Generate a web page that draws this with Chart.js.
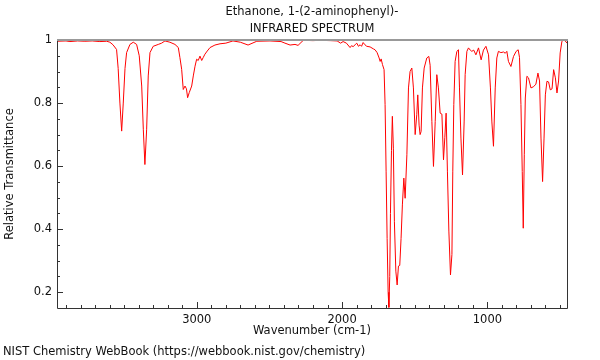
<!DOCTYPE html>
<html>
<head>
<meta charset="utf-8">
<title>Ethanone, 1-(2-aminophenyl)- IR spectrum</title>
<script src="https://cdn.jsdelivr.net/npm/chart.js@4"></script>
<style>
  html, body { margin: 0; padding: 0; background: #fff; }
  #spectrum { display: block; }
</style>
</head>
<body>
<canvas id="spectrum" width="600" height="360"></canvas>
<script>
const wavenumbers = [
  3961, 3900, 3873, 3820, 3770, 3720, 3667, 3620, 3598, 3577,
  3552, 3541, 3529, 3517, 3506, 3494, 3483, 3460, 3437, 3414,
  3396, 3379, 3368, 3357, 3345, 3334, 3322, 3300, 3265, 3242,
  3219, 3185, 3150, 3127, 3116, 3104, 3093, 3081, 3071, 3063,
  3052, 3035, 3024, 3012, 3001, 2990, 2978, 2966, 2955, 2944,
  2928, 2909, 2875, 2840, 2800, 2751, 2700, 2647, 2587, 2496,
  2420, 2393, 2358, 2324, 2303, 2267, 2200, 2152, 2080, 2034,
  2010, 1993, 1970, 1945, 1935, 1924, 1910, 1899, 1887, 1876,
  1866, 1855, 1843, 1830, 1807, 1785, 1773, 1759, 1745, 1738,
  1731, 1722, 1711, 1704, 1697, 1690, 1683, 1678, 1672, 1667,
  1660, 1654, 1647, 1640, 1630, 1621, 1612, 1603, 1594, 1585,
  1575, 1566, 1554, 1543, 1532, 1520, 1509, 1497, 1486, 1479,
  1470, 1463, 1456, 1447, 1435, 1417, 1403, 1394, 1382, 1371,
  1359, 1348, 1337, 1325, 1313, 1302, 1293, 1284, 1275, 1265,
  1254, 1244, 1238, 1231, 1222, 1210, 1199, 1192, 1182, 1171,
  1160, 1153, 1141, 1130, 1118, 1107, 1094, 1079, 1061, 1043,
  1027, 1010, 992, 979, 969, 958, 946, 935, 924, 907,
  889, 877, 866, 855, 838, 820, 802, 788, 779, 769,
  760, 753, 746, 739, 728, 717, 700, 682, 666, 652,
  641, 631, 620, 610, 601, 590, 579, 567, 555, 544,
  532, 521, 510, 499, 487, 476, 464, 452
];

const transmittance = [
  0.996, 0.997, 0.995, 0.997, 0.996, 0.997, 0.995, 0.996, 0.993, 0.985,
  0.970, 0.910, 0.800, 0.711, 0.800, 0.910, 0.960, 0.986, 0.993, 0.986,
  0.950, 0.854, 0.717, 0.605, 0.717, 0.886, 0.960, 0.980, 0.986, 0.990,
  0.997, 0.993, 0.986, 0.976, 0.944, 0.907, 0.843, 0.854, 0.845, 0.817,
  0.833, 0.854, 0.886, 0.917, 0.939, 0.935, 0.949, 0.935, 0.945, 0.955,
  0.965, 0.976, 0.984, 0.988, 0.990, 0.997, 0.993, 0.984, 0.996, 0.997,
  0.995, 0.990, 0.984, 0.986, 0.983, 0.999, 0.998, 0.999, 0.998, 0.997,
  0.990, 0.995, 0.990, 0.976, 0.982, 0.979, 0.985, 0.990, 0.980, 0.985,
  0.980, 0.992, 0.985, 0.980, 0.978, 0.972, 0.969, 0.960, 0.943, 0.932,
  0.940, 0.922, 0.906, 0.795, 0.584, 0.371, 0.200, 0.152, 0.250, 0.450,
  0.650, 0.758, 0.657, 0.425, 0.267, 0.223, 0.283, 0.285, 0.371, 0.477,
  0.562, 0.498, 0.636, 0.848, 0.900, 0.911, 0.848, 0.700, 0.763, 0.826,
  0.730, 0.700, 0.710, 0.848, 0.911, 0.943, 0.948, 0.920, 0.742, 0.599,
  0.742, 0.890, 0.848, 0.768, 0.765, 0.620, 0.690, 0.768, 0.584, 0.394,
  0.255, 0.320, 0.584, 0.795, 0.932, 0.964, 0.969, 0.848, 0.689, 0.572,
  0.740, 0.890, 0.964, 0.975, 0.968, 0.964, 0.968, 0.953, 0.975, 0.937,
  0.968, 0.980, 0.953, 0.848, 0.740, 0.663, 0.848, 0.943, 0.964, 0.960,
  0.962, 0.958, 0.964, 0.932, 0.916, 0.948, 0.964, 0.969, 0.945, 0.795,
  0.583, 0.403, 0.636, 0.816, 0.885, 0.880, 0.848, 0.852, 0.860, 0.895,
  0.870, 0.689, 0.551, 0.689, 0.826, 0.869, 0.867, 0.842, 0.845, 0.906,
  0.880, 0.832, 0.870, 0.959, 0.996, 1.000, 0.997, 0.990
];

const xTickLabels = [1000, 2000, 3000];
const yTickLabels = [0.2, 0.4, 0.6, 0.8, 1];

const FONT = '"DejaVu Sans", "Liberation Sans", sans-serif';
const FONT_SIZE = 11.5;

// inward tick marks, frame, titles and footer
const frameAndText = {
  id: 'frameAndText',
  afterDraw(chart) {
    const { ctx, chartArea: a, scales: { x, y } } = chart;
    ctx.save();

    ctx.strokeStyle = '#333';
    ctx.lineWidth = 1;
    ctx.beginPath();
    for (let wn = 500; wn <= 3900; wn += 100) {
      const px = Math.round(x.getPixelForValue(wn)) + 0.5;
      const len = wn % 1000 === 0 ? 6 : 3;
      ctx.moveTo(px, a.bottom);
      ctx.lineTo(px, a.bottom - len);
    }
    for (let i = 4; i <= 19; i++) {
      const t = i * 0.05;
      const py = Math.round(y.getPixelForValue(t)) + 0.5;
      const len = i % 4 === 0 ? 6 : 3;
      ctx.moveTo(a.left, py);
      ctx.lineTo(a.left + len, py);
    }
    ctx.stroke();

    // frame
    ctx.beginPath();
    ctx.moveTo(a.left + 0.5, a.top);
    ctx.lineTo(a.left + 0.5, a.bottom + 0.5);
    ctx.lineTo(a.right + 0.5, a.bottom + 0.5);
    ctx.lineTo(a.right + 0.5, a.top);
    ctx.stroke();
    ctx.strokeStyle = '#999';
    ctx.lineWidth = 2;
    ctx.beginPath();
    ctx.moveTo(a.left, a.top);
    ctx.lineTo(a.right + 1, a.top);
    ctx.stroke();

    ctx.fillStyle = '#111';
    ctx.font = FONT_SIZE + 'px ' + FONT;
    ctx.textAlign = 'center';
    ctx.textBaseline = 'middle';
    const cx = (a.left + a.right) / 2;
    ctx.fillText('Ethanone, 1-(2-aminophenyl)-', cx, 12);
    ctx.fillText('INFRARED SPECTRUM', cx, 29);
    ctx.fillText('Wavenumber (cm-1)', cx, 331);

    ctx.save();
    ctx.translate(10, (a.top + a.bottom) / 2);
    ctx.rotate(-Math.PI / 2);
    ctx.fillText('Relative Transmittance', 0, 0);
    ctx.restore();

    ctx.textAlign = 'left';
    ctx.fillText('NIST Chemistry WebBook (https://webbook.nist.gov/chemistry)', 3, 352);
    ctx.restore();
  }
};

const initSpectrum = () => {
  const points = wavenumbers.map((wn, i) => ({ x: wn, y: transmittance[i] }));

  const config = {
    type: 'line',
    data: {
      datasets: [{
        data: points,
        borderColor: 'rgb(255, 0, 0)',
        borderWidth: 1,
        pointRadius: 0,
        tension: 0,
        clip: 3,
      }],
    },
    options: {
      responsive: false,
      animation: false,
      devicePixelRatio: 1,
      layout: { padding: { top: 40, right: 33, left: 0, bottom: 0 } },
      plugins: {
        legend: { display: false },
        tooltip: { enabled: false },
      },
      scales: {
        x: {
          type: 'linear',
          reverse: true,
          min: 452,
          max: 3962,
          grid: { display: false, drawTicks: false },
          border: { display: false },
          afterBuildTicks: (scale) => {
            scale.ticks = xTickLabels.map(v => ({ value: v }));
          },
          afterFit: (scale) => { scale.height = 52; },
          ticks: {
            padding: 5,
            color: '#111',
            font: { family: FONT, size: FONT_SIZE },
            maxRotation: 0,
            callback: (v) => String(v),
          },
        },
        y: {
          type: 'linear',
          min: 0.15,
          max: 1.0,
          grid: { display: false, drawTicks: false },
          border: { display: false },
          afterBuildTicks: (scale) => {
            scale.ticks = yTickLabels.map(v => ({ value: v }));
          },
          afterFit: (scale) => { scale.width = 57; },
          ticks: {
            padding: 5,
            color: '#111',
            font: { family: FONT, size: FONT_SIZE },
            callback: (v) => String(+v.toFixed(2)),
          },
        },
      },
    },
    plugins: [frameAndText],
  };

  new Chart(document.getElementById('spectrum'), config);
};

document.addEventListener('DOMContentLoaded', () => {
  if (!document.querySelector('#spectrum')) return;
  initSpectrum();
});
</script>
</body>
</html>
